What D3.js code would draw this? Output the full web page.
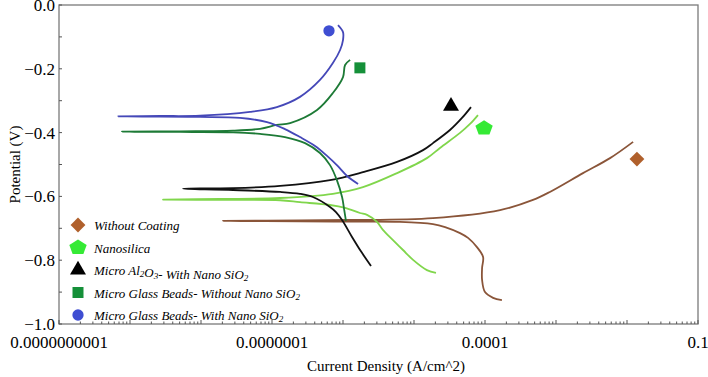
<!DOCTYPE html>
<html>
<head>
<meta charset="utf-8">
<script src="https://cdn.jsdelivr.net/npm/d3@7"></script>
<style>
  body { margin: 0; background: #fff; }
  text { font-family: "Liberation Serif", "Times New Roman", serif; }
</style>
</head>
<body>
<div id="chart"></div>
<script>
// current density (A/cm^2) and potential (V), cathodic end -> Ecorr -> anodic end
var withoutCoatingI = [1.73e-4, 1.30e-4, 1.0e-4, 9.1e-5, 9.1e-5, 9.4e-5, 7.7e-5, 5.77e-5, 4.45e-5, 2.74e-5, 1.85e-5, 6.35e-6, 1.26e-6, 2.48e-7, 2.04e-8,
                       2.48e-7, 1.26e-6, 1.85e-5, 1.63e-4, 4.74e-4, 8.2e-4, 2.40e-3, 5.77e-3, 1.22e-2];
var withoutCoatingE = [-0.925, -0.918, -0.900, -0.862, -0.824, -0.790, -0.759, -0.730, -0.715, -0.696, -0.687, -0.680, -0.679, -0.678, -0.677,
                       -0.675, -0.674, -0.668, -0.643, -0.611, -0.586, -0.527, -0.480, -0.429];

var nanosilicaI = [2.04e-5, 1.52e-5, 9.7e-6, 7.0e-6, 5.06e-6, 3.65e-6, 3.01e-6, 2.18e-6, 1.73e-6, 1.07e-6, 6.56e-7, 2.48e-7, 1.30e-7, 1.85e-8, 2.92e-9,
                   1.85e-8, 1.30e-7, 7.2e-7, 1.91e-6, 5.77e-6, 1.52e-5, 2.32e-5, 4.45e-5, 6.15e-5, 7.96e-5];
var nanosilicaE = [-0.840, -0.831, -0.799, -0.768, -0.737, -0.705, -0.680, -0.658, -0.652, -0.636, -0.627, -0.618, -0.612, -0.611, -0.610,
                   -0.608, -0.605, -0.592, -0.571, -0.527, -0.480, -0.448, -0.401, -0.373, -0.345];

var al2o3I = [2.48e-6, 1.85e-6, 1.34e-6, 9.7e-7, 7.96e-7, 6.56e-7, 3.77e-7, 2.48e-7, 1.30e-7, 2.83e-8, 5.57e-9,
              2.83e-8, 1.30e-7, 6.56e-7, 1.91e-6, 5.77e-6, 1.34e-5, 1.85e-5, 3.21e-5, 4.74e-5, 6.35e-5];
var al2o3E = [-0.818, -0.777, -0.727, -0.674, -0.649, -0.633, -0.602, -0.592, -0.586, -0.580, -0.576,
              -0.574, -0.567, -0.549, -0.524, -0.492, -0.455, -0.433, -0.392, -0.354, -0.320];

var beadsNoNanoI = [1.10e-6, 1.03e-6, 9.7e-7, 8.2e-7, 6.56e-7, 4.74e-7, 2.92e-7, 1.52e-7, 6.78e-8, 2.83e-8, 5.06e-9, 7.7e-10,
                    5.06e-9, 2.83e-8, 6.78e-8, 1.17e-7, 1.80e-7, 4.31e-7, 7.2e-7, 1.0e-6, 1.07e-6, 1.26e-6];
var beadsNoNanoE = [-0.677, -0.636, -0.602, -0.549, -0.502, -0.464, -0.433, -0.414, -0.404, -0.399, -0.398, -0.397,
                    -0.396, -0.394, -0.388, -0.376, -0.370, -0.329, -0.276, -0.226, -0.188, -0.172];

var beadsNanoI = [1.63e-6, 1.14e-6, 8.2e-7, 5.96e-7, 4.04e-7, 2.48e-7, 1.52e-7, 8.5e-8, 3.54e-8, 9.7e-9, 2.65e-9, 6.8e-10,
                  2.65e-9, 9.7e-9, 4.9e-8, 1.17e-7, 2.48e-7, 4.74e-7, 7.2e-7, 9.1e-7, 1.0e-6, 1.0e-6, 8.5e-7];
var beadsNanoE = [-0.561, -0.536, -0.502, -0.473, -0.442, -0.414, -0.389, -0.367, -0.354, -0.351, -0.350, -0.349,
                  -0.348, -0.347, -0.335, -0.320, -0.288, -0.235, -0.182, -0.141, -0.110, -0.085, -0.063];

// marker placed next to each curve
var markerI = [1.38e-2, 9.7e-5, 3.32e-5, 1.73e-6, 6.35e-7];
var markerE = [-0.483, -0.386, -0.317, -0.197, -0.081];

var seriesNames = ["Without Coating", "Nanosilica", "Micro Al_2O_3- With Nano SiO_2",
                   "Micro Glass Beads- Without Nano SiO_2", "Micro Glass Beads- With Nano SiO_2"];
var lineColors = ["#8a5539", "#80d64c", "#111111", "#1d7a36", "#4548b8"];
var markerColors = ["#b0602c", "#35ea35", "#000000", "#159039", "#3f4ed2"];

var xTicks = [1e-10, 1e-7, 1e-4, 1e-1];
var xTickLabels = ["0.0000000001", "0.0000001", "0.0001", "0.1"];
var yTicks = [0, -0.2, -0.4, -0.6, -0.8, -1.0];

var width = 708, height = 377;
var plotLeft = 59, plotRight = 698, plotTop = 5, plotBottom = 324;

var svg = d3.select("#chart").append("svg")
    .attr("width", width)
    .attr("height", height);

var x = d3.scaleLog().domain([1e-10, 1e-1]).range([plotLeft, plotRight]);
var y = d3.scaleLinear().domain([-1, 0]).range([plotBottom, plotTop]);

// frame
svg.append("rect")
    .attr("x", plotLeft).attr("y", plotTop)
    .attr("width", plotRight - plotLeft).attr("height", plotBottom - plotTop)
    .attr("fill", "none").attr("stroke", "#7a7a7a").attr("stroke-width", 1.3);

// x minor ticks (log)
var minor = [];
for (var e = -10; e < -1; e++) {
    for (var m = 1; m < 10; m++) minor.push(m * Math.pow(10, e));
}
minor.push(1e-1);
svg.append("g").selectAll("line")
    .data(minor)
    .enter().append("line")
    .attr("x1", function(d) { return x(d) })
    .attr("x2", function(d) { return x(d) })
    .attr("y1", plotBottom)
    .attr("y2", function(d, i) { return plotBottom - (i % 9 == 0 ? 4 : 2.5) })
    .attr("stroke", "#555").attr("stroke-width", 1);

// y minor ticks
svg.append("g").selectAll("line")
    .data(d3.range(0, 11).map(function(i) { return -i / 10 }))
    .enter().append("line")
    .attr("x1", plotLeft).attr("x2", plotLeft + 3)
    .attr("y1", function(d) { return y(d) })
    .attr("y2", function(d) { return y(d) })
    .attr("stroke", "#555").attr("stroke-width", 1);

svg.append("g").selectAll("text")
    .data(xTicks)
    .enter().append("text")
    .attr("x", function(d) { return x(d) })
    .attr("y", 348)
    .attr("text-anchor", "middle")
    .attr("font-size", 17)
    .text(function(d, i) { return xTickLabels[i] });

svg.append("g").selectAll("text")
    .data(yTicks)
    .enter().append("text")
    .attr("x", plotLeft - 4)
    .attr("y", function(d) { return y(d) + 6 })
    .attr("text-anchor", "end")
    .attr("font-size", 17)
    .text(function(d) { return d3.format(".1f")(d) });

svg.append("text")
    .attr("transform", "translate(20," + ((plotTop + plotBottom) / 2) + ") rotate(-90)")
    .attr("text-anchor", "middle")
    .attr("font-size", 15)
    .text("Potential (V)");

svg.append("text")
    .attr("x", 386).attr("y", 371)
    .attr("text-anchor", "middle")
    .attr("font-size", 15)
    .text("Current Density (A/cm^2)");

var series = [
    d3.zip(withoutCoatingI, withoutCoatingE),
    d3.zip(nanosilicaI, nanosilicaE),
    d3.zip(al2o3I, al2o3E),
    d3.zip(beadsNoNanoI, beadsNoNanoE),
    d3.zip(beadsNanoI, beadsNanoE)
];

var line = d3.line()
    .x(function(d) { return x(d[0]) })
    .y(function(d) { return y(d[1]) })
    .curve(d3.curveCatmullRom.alpha(0.5));

svg.append("g").selectAll("path")
    .data(series)
    .enter().append("path")
    .attr("d", line)
    .attr("fill", "none")
    .attr("stroke", function(d, i) { return lineColors[i] })
    .attr("stroke-width", 1.8)
    .attr("stroke-linejoin", "round");

// pentagon and square-diamond symbols
var symbolPentagon = {
    draw: function(ctx, size) {
        var r = Math.sqrt(size / 2.3776);
        for (var k = 0; k < 5; k++) {
            var a = -Math.PI / 2 + k * 2 * Math.PI / 5;
            var px = r * Math.cos(a) * 1.15, py = r * Math.sin(a);
            if (k == 0) ctx.moveTo(px, py); else ctx.lineTo(px, py);
        }
        ctx.closePath();
    }
};
var symbolRhomb = {
    draw: function(ctx, size) {
        var r = Math.sqrt(size / 2);
        ctx.moveTo(0, -r); ctx.lineTo(r, 0); ctx.lineTo(0, r); ctx.lineTo(-r, 0);
        ctx.closePath();
    }
};
var symbols = [symbolRhomb, symbolPentagon, d3.symbolTriangle, d3.symbolSquare, d3.symbolCircle];
var symbolSizes = [110, 150, 110, 121, 100];

svg.append("g").selectAll("path")
    .data(markerI)
    .enter().append("path")
    .attr("transform", function(d, i) { return "translate(" + x(d) + "," + y(markerE[i]) + ")" })
    .attr("d", function(d, i) { return d3.symbol(symbols[i], symbolSizes[i])() })
    .attr("fill", function(d, i) { return markerColors[i] });

// legend
var legend = svg.append("g").selectAll("g")
    .data(seriesNames)
    .enter().append("g")
    .attr("transform", function(d, i) { return "translate(78," + (225 + i * 22.5) + ")" });

legend.append("path")
    .attr("d", function(d, i) { return d3.symbol(symbols[i], symbolSizes[i])() })
    .attr("fill", function(d, i) { return markerColors[i] });

legend.append("text")
    .attr("x", 16)
    .attr("y", 5)
    .attr("font-size", 13)
    .attr("font-style", "italic")
    .each(function(d) {
        var t = d3.select(this);
        d.split(/(_\d)/).forEach(function(part) {
            if (part.charAt(0) == "_") {
                t.append("tspan").attr("font-size", 9).attr("dy", 2).text(part.slice(1));
                t.append("tspan").attr("dy", -2).text("");
            } else if (part.length) {
                t.append("tspan").text(part);
            }
        });
    });
</script>
</body>
</html>
